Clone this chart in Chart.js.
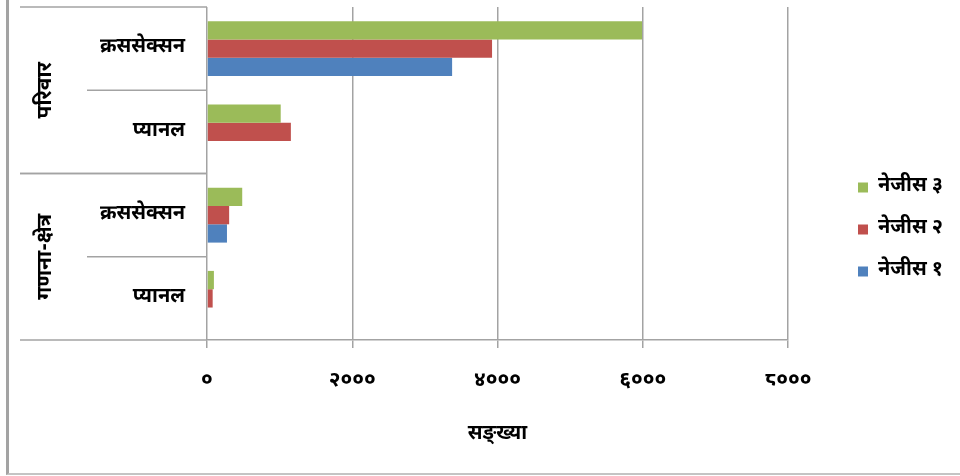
<!DOCTYPE html>
<html lang="ne">
<head>
  <meta charset="UTF-8">
  <title>नेजीस सङ्ख्या</title>
  <script src="https://cdn.jsdelivr.net/npm/chart.js"></script>
  <style>
    body {
      margin: 0;
      background: #fff;
    }
    #wrap {
      position: relative;
      width: 960px;
      height: 476px;
      overflow: hidden;
    }
    #frame {
      position: absolute;
      left: 6px;
      top: -4px;
      width: 960px;
      height: 477px;
      border-left: 3px solid #a3a3a3;
      border-bottom: 2px solid #c4c4c4;
      pointer-events: none;
    }
    canvas {
      position: absolute;
      left: 0;
      top: 0;
    }
  </style>
</head>
<body>
  <div id="wrap">
    <canvas id="barChart" width="960" height="476"></canvas>
    <div id="frame"></div>
  </div>

  <script>
    const categories = ['क्रससेक्सन', 'प्यानल', 'क्रससेक्सन', 'प्यानल'];
    const groupLabels = ['परिवार', 'गणना-क्षेत्र'];
    const groupSizes = [2, 2];
    const seriesNames = ['नेजीस ३', 'नेजीस २', 'नेजीस १'];
    const nejis3 = [5990, 1015, 485, 95];
    const nejis2 = [3925, 1155, 305, 78];
    const nejis1 = [3375, null, 275, null];
    const tickLabels = ['०', '२०००', '४०००', '६०००', '८०००'];

    const FONT = "'Noto Sans Devanagari', 'Lohit Devanagari', 'FreeSans', 'Noto Sans', sans-serif";
    const LINE = '#a3a3a3';

    // Excel style legend: fixed width box, items pushed to the right
    const legendPlacer = {
      id: 'legendPlacer',
      beforeInit(chart) {
        const lg = chart.legend;
        const fit = lg.fit;
        lg.fit = function() {
          fit.call(this);
          this.width = 172;
        };
      },
      afterLayout(chart) {
        const lg = chart.legend;
        const dx = 836 - lg.left;
        lg.left += dx; lg.right += dx;
        lg.top -= 12; lg.bottom -= 12;
      }
    };

    // two level category axis: group names and separator lines
    const groupAxis = {
      id: 'groupAxis',
      afterDraw(chart) {
        const {ctx, chartArea} = chart;
        const y = chart.scales.y;
        const step = y.getPixelForValue(1) - y.getPixelForValue(0);
        const edge = i => y.getPixelForValue(i) - step / 2;
        ctx.save();
        ctx.strokeStyle = LINE;
        ctx.lineWidth = 1.5;
        let start = 0;
        groupSizes.forEach((size, g) => {
          const top = edge(start);
          const bottom = edge(start + size);
          ctx.beginPath();
          ctx.moveTo(20, top);
          ctx.lineTo(chartArea.left, top);
          ctx.stroke();
          for (let k = 1; k < size; k++) {
            const yy = edge(start + k);
            ctx.beginPath();
            ctx.moveTo(87, yy);
            ctx.lineTo(chartArea.left, yy);
            ctx.stroke();
          }
          ctx.beginPath();
          ctx.moveTo(20, bottom);
          ctx.lineTo(chartArea.left, bottom);
          ctx.stroke();

          ctx.save();
          ctx.translate(47, (top + bottom) / 2);
          ctx.rotate(-Math.PI / 2);
          ctx.fillStyle = '#000';
          ctx.font = 'bold 21px ' + FONT;
          ctx.textAlign = 'center';
          ctx.textBaseline = 'middle';
          ctx.fillText(groupLabels[g], 0, 0);
          ctx.restore();
          start += size;
        });
        ctx.restore();
      }
    };

    const ctx = document.getElementById('barChart').getContext('2d');
    new Chart(ctx, {
      type: 'bar',
      data: {
        labels: categories,
        datasets: [
          { label: seriesNames[0], data: nejis3, backgroundColor: '#9bbb59' },
          { label: seriesNames[1], data: nejis2, backgroundColor: '#c0504d' },
          { label: seriesNames[2], data: nejis1, backgroundColor: '#4f81bd' }
        ]
      },
      options: {
        indexAxis: 'y',
        responsive: false,
        animation: false,
        categoryPercentage: 0.66,
        barPercentage: 1.0,
        layout: { padding: { top: 7, left: 0, right: 0, bottom: 0 } },
        scales: {
          x: {
            min: 0,
            max: 8000,
            ticks: {
              stepSize: 2000,
              color: '#000',
              padding: 21,
              font: { family: FONT, size: 21, weight: 'bold' },
              callback: (v, i) => tickLabels[i]
            },
            grid: { color: LINE, lineWidth: 1.5, tickLength: 8 },
            border: { display: true, color: LINE, width: 1.5 },
            title: {
              display: true,
              text: 'सङ्ख्या',
              color: '#000',
              font: { family: FONT, size: 20, weight: 'bold' },
              padding: { top: 0, bottom: 29 }
            },
            afterFit(scale) { scale.height = 136; }
          },
          y: {
            ticks: {
              color: '#000',
              padding: 22,
              font: { family: FONT, size: 20, weight: 'bold' }
            },
            grid: { display: false, drawTicks: false },
            border: { display: false },
            afterFit(scale) {
              scale.width = 207;
              scale.paddingTop = 0;
              scale.paddingBottom = 0;
            }
          }
        },
        plugins: {
          legend: {
            position: 'right',
            labels: {
              color: '#000',
              boxWidth: 10,
              boxHeight: 10,
              padding: 22,
              font: { family: FONT, size: 20, weight: 'bold' }
            }
          },
          tooltip: { enabled: false }
        }
      },
      plugins: [legendPlacer, groupAxis]
    });
  </script>
</body>
</html>
